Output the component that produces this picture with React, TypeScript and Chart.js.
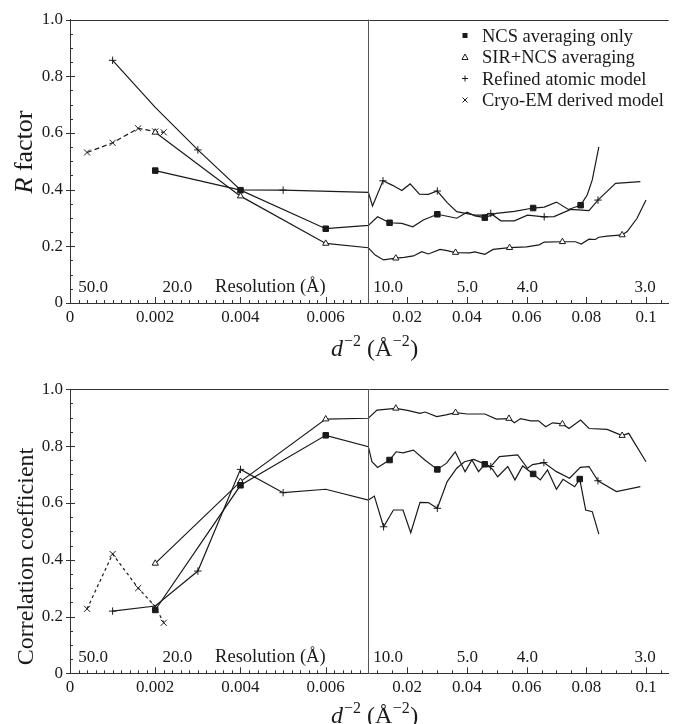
import React, { useEffect, useRef } from 'react';
import { Chart, registerables, LinearScale } from 'chart.js';

type Pt = [number, number, number]; // [d^-2, value, marker shown]

// ---------------- data ----------------
const xBreak = 0.007;
const xMax = 0.1076;
const xMajorTicks = [0, 0.002, 0.004, 0.006, 0.02, 0.04, 0.06, 0.08, 0.1];
const xTickLabels = ['0', '0.002', '0.004', '0.006', '0.02', '0.04', '0.06', '0.08', '0.1'];
const yMajorTicks = [0, 0.2, 0.4, 0.6, 0.8, 1.0];
const yTickLabels = ['0', '0.2', '0.4', '0.6', '0.8', '1.0'];
const seriesNames = ['NCS averaging only', 'SIR+NCS averaging', 'Refined atomic model', 'Cryo-EM derived model'];
const resLabels = ['50.0', '20.0', 'Resolution (Å)', '10.0', '5.0', '4.0', '3.0'];
const resLabelX = [0.00054, 0.00252, 0.0047, 0.0136, 0.0402, 0.0603, 0.0997];

// R factor panel
const rNcs: Pt[] = [
  [0.002, 0.467, 1], [0.004, 0.398, 1], [0.006, 0.262, 1], [0.007, 0.274, 0], [0.0101, 0.304, 0],
  [0.0141, 0.283, 1], [0.0182, 0.281, 0], [0.0219, 0.269, 0], [0.0254, 0.293, 0], [0.0301, 0.313, 1],
  [0.0334, 0.306, 0], [0.0366, 0.299, 0], [0.0401, 0.320, 0], [0.0427, 0.307, 0], [0.046, 0.301, 1],
  [0.0498, 0.316, 0], [0.0559, 0.323, 0], [0.0622, 0.335, 1], [0.0659, 0.338, 0], [0.0700, 0.356, 0],
  [0.0740, 0.330, 0], [0.0781, 0.345, 1], [0.0803, 0.381, 0], [0.0820, 0.434, 0], [0.0842, 0.551, 0],
];
const rSir: Pt[] = [
  [0.002, 0.602, 1], [0.004, 0.377, 1], [0.006, 0.210, 1], [0.007, 0.195, 0], [0.0093, 0.169, 0],
  [0.0121, 0.152, 0], [0.0162, 0.158, 1], [0.019, 0.161, 0], [0.0221, 0.166, 0], [0.0249, 0.181, 0],
  [0.0271, 0.173, 0], [0.031, 0.189, 0], [0.0334, 0.185, 0], [0.0362, 0.178, 1], [0.041, 0.177, 0],
  [0.0427, 0.180, 0], [0.046, 0.172, 0], [0.0488, 0.189, 0], [0.0543, 0.195, 1], [0.0600, 0.198, 0],
  [0.0642, 0.205, 0], [0.0659, 0.215, 0], [0.072, 0.216, 1], [0.0764, 0.216, 0], [0.0783, 0.208, 0],
  [0.0809, 0.225, 0], [0.0830, 0.224, 0], [0.0842, 0.232, 0], [0.087, 0.236, 0], [0.092, 0.240, 1],
  [0.0937, 0.252, 0], [0.097, 0.299, 0], [0.1, 0.363, 0],
];
const rRefined: Pt[] = [
  [0.001, 0.856, 1], [0.002, 0.690, 0], [0.003, 0.540, 1], [0.004, 0.399, 0], [0.005, 0.398, 1],
  [0.007, 0.390, 0], [0.0084, 0.342, 0], [0.0119, 0.431, 1], [0.0151, 0.415, 0], [0.0182, 0.397, 0],
  [0.021, 0.420, 0], [0.0241, 0.384, 0], [0.0271, 0.383, 0], [0.0301, 0.395, 1], [0.0334, 0.354, 0],
  [0.0366, 0.322, 0], [0.0427, 0.310, 0], [0.046, 0.310, 0], [0.048, 0.316, 1], [0.0514, 0.290, 0],
  [0.0559, 0.290, 0], [0.0603, 0.310, 0], [0.0659, 0.304, 1], [0.0692, 0.305, 0], [0.0748, 0.330, 0],
  [0.0809, 0.326, 0], [0.0839, 0.363, 1], [0.0898, 0.422, 0], [0.0981, 0.428, 0],
];
const rCryo: Pt[] = [
  [0.0004, 0.531, 1], [0.001, 0.565, 1], [0.0016, 0.616, 1], [0.002, 0.605, 1], [0.0022, 0.602, 1],
];

// Correlation coefficient panel
const ccNcs: Pt[] = [
  [0.002, 0.223, 1], [0.004, 0.662, 1], [0.006, 0.838, 1], [0.007, 0.798, 0], [0.0082, 0.745, 0],
  [0.0101, 0.725, 0], [0.0141, 0.751, 1], [0.0163, 0.780, 0], [0.0186, 0.776, 0], [0.0221, 0.786, 0],
  [0.0259, 0.751, 0], [0.0301, 0.718, 1], [0.0332, 0.740, 0], [0.0361, 0.780, 0], [0.0394, 0.710, 0],
  [0.0417, 0.751, 0], [0.0439, 0.710, 0], [0.046, 0.736, 1], [0.0485, 0.720, 0], [0.0503, 0.692, 0],
  [0.0537, 0.728, 0], [0.0561, 0.681, 0], [0.0587, 0.730, 0], [0.0622, 0.702, 1], [0.0646, 0.681, 0],
  [0.067, 0.716, 0], [0.070, 0.648, 0], [0.0722, 0.683, 0], [0.0761, 0.657, 0], [0.0778, 0.684, 1],
  [0.0798, 0.575, 0], [0.082, 0.569, 0], [0.0842, 0.490, 0],
];
const ccSir: Pt[] = [
  [0.002, 0.387, 1], [0.004, 0.675, 1], [0.006, 0.895, 1], [0.007, 0.898, 0], [0.0099, 0.927, 0],
  [0.0162, 0.933, 1], [0.0205, 0.925, 0], [0.0243, 0.915, 0], [0.026, 0.920, 0], [0.0299, 0.904, 0],
  [0.033, 0.910, 0], [0.0362, 0.918, 1], [0.040, 0.913, 0], [0.046, 0.913, 0], [0.0499, 0.895, 0],
  [0.0541, 0.897, 1], [0.0559, 0.882, 0], [0.058, 0.897, 0], [0.0614, 0.889, 0], [0.064, 0.889, 0],
  [0.0664, 0.868, 0], [0.0687, 0.882, 0], [0.072, 0.878, 1], [0.0742, 0.862, 0], [0.0781, 0.892, 0],
  [0.0809, 0.862, 0], [0.087, 0.859, 0], [0.089, 0.850, 0], [0.092, 0.837, 1], [0.0942, 0.845, 0],
  [0.1, 0.745, 0],
];
const ccRefined: Pt[] = [
  [0.001, 0.219, 1], [0.002, 0.237, 0], [0.003, 0.360, 1], [0.004, 0.718, 1], [0.005, 0.636, 1],
  [0.006, 0.648, 0], [0.007, 0.610, 0], [0.009, 0.624, 0], [0.0121, 0.516, 1], [0.0154, 0.575, 0],
  [0.0186, 0.575, 0], [0.0212, 0.495, 0], [0.0243, 0.602, 0], [0.0271, 0.601, 0], [0.0301, 0.581, 1],
  [0.0334, 0.675, 0], [0.0366, 0.722, 0], [0.0392, 0.745, 0], [0.0423, 0.753, 0], [0.048, 0.728, 1],
  [0.0509, 0.763, 0], [0.057, 0.769, 0], [0.0603, 0.722, 0], [0.062, 0.735, 0], [0.0658, 0.742, 1],
  [0.070, 0.710, 0], [0.0744, 0.687, 0], [0.078, 0.725, 0], [0.0809, 0.728, 0], [0.0839, 0.678, 1],
  [0.0901, 0.640, 0], [0.0981, 0.657, 0],
];
const ccCryo: Pt[] = [
  [0.0004, 0.227, 1], [0.001, 0.420, 1], [0.0016, 0.300, 1], [0.002, 0.235, 1], [0.0022, 0.178, 1],
];

// ---------------- styling ----------------
const INK = '#1a1a1a';
const AXIS = '#333333';
const SERIF = '"Liberation Serif", "Times New Roman", serif';
const BREAK_FRAC = 300 / 602;

const seriesStyles = [
  { pointStyle: 'rect', radius: 3.9, fill: INK },
  { pointStyle: 'triangle', radius: 3.6, fill: '#ffffff' },
  { pointStyle: 'cross', radius: 3.7, fill: INK },
  { pointStyle: 'crossRot', radius: 4.3, fill: INK },
];

// minor tick values
const xMinor: number[] = [];
for (let i = 1; i <= 34; i++) if (i % 10 !== 0) xMinor.push(i / 5000);
for (let k = 2; k <= 21; k++) if (k % 4 !== 0) xMinor.push(k * 0.005);
const yMinor: number[] = [];
for (let k = 1; k < 20; k++) if (k % 4 !== 0) yMinor.push(k * 0.05);

// --------- broken (piecewise linear) x scale ---------
class BrokenScale extends LinearScale {
  static id = 'broken';
  static defaults = LinearScale.defaults;
  buildTicks() {
    return xMajorTicks.map((v) => ({ value: v }));
  }
  getPixelForValue(value: any) {
    if (value === null || value === undefined || isNaN(value)) return NaN;
    const min = (this as any).min as number;
    const max = (this as any).max as number;
    let d: number;
    if (value <= xBreak) d = ((value - min) / (xBreak - min)) * BREAK_FRAC;
    else d = BREAK_FRAC + ((value - xBreak) / (max - xBreak)) * (1 - BREAK_FRAC);
    return (this as any).getPixelForDecimal(d);
  }
  getValueForPixel(pixel: number) {
    const d = (this as any).getDecimalForPixel(pixel);
    const min = (this as any).min as number;
    const max = (this as any).max as number;
    if (d <= BREAK_FRAC) return min + (d / BREAK_FRAC) * (xBreak - min);
    return xBreak + ((d - BREAK_FRAC) / (1 - BREAK_FRAC)) * (max - xBreak);
  }
}

Chart.register(...registerables, BrokenScale as any);

type PanelCfg = {
  key: string;
  top: number;
  height: number;
  padTop: number;
  xAxisHeight: number;
  series: Pt[][];
  cryoDash: number[];
  yTitle: { text: string; italic: boolean }[];
  yTitleSize: number;
  yTitleX: number;
  yTitleY: number;
  xTitleOffset: number;
  legend: boolean;
};

function makeOverlay(cfg: PanelCfg) {
  return {
    id: 'overlay_' + cfg.key,
    afterDraw(chart: any) {
      const { ctx, chartArea: a } = chart;
      const xs = chart.scales.x;
      const ys = chart.scales.y;
      ctx.save();
      const seg = (x1: number, y1: number, x2: number, y2: number) => {
        ctx.beginPath();
        ctx.moveTo(x1, y1);
        ctx.lineTo(x2, y2);
        ctx.stroke();
      };
      ctx.lineWidth = 1;
      ctx.strokeStyle = AXIS;
      // top frame line
      seg(a.left, Math.round(a.top) + 0.5, a.right, Math.round(a.top) + 0.5);
      // break line
      const bx = Math.round(xs.getPixelForValue(xBreak)) + 0.5;
      ctx.strokeStyle = '#555555';
      seg(bx, a.top, bx, a.bottom);
      ctx.strokeStyle = AXIS;
      // x ticks (inward)
      xMinor.forEach((v) => {
        const p = Math.round(xs.getPixelForValue(v)) + 0.5;
        seg(p, a.bottom, p, a.bottom - 3);
      });
      xMajorTicks.forEach((v) => {
        const p = Math.round(xs.getPixelForValue(v)) + 0.5;
        seg(p, a.bottom, p, a.bottom - 6);
      });
      // y ticks
      yMinor.forEach((v) => {
        const p = Math.round(ys.getPixelForValue(v)) + 0.5;
        seg(a.left, p, a.left + 3, p);
      });
      yMajorTicks.forEach((v) => {
        const p = Math.round(ys.getPixelForValue(v)) + 0.5;
        seg(a.left - 4, p, a.left + 5, p);
      });

      // resolution labels
      ctx.fillStyle = INK;
      ctx.textAlign = 'center';
      ctx.textBaseline = 'alphabetic';
      resLabels.forEach((t, i) => {
        ctx.font = (t.length > 5 ? '18.5px ' : '17px ') + SERIF;
        ctx.fillText(t, xs.getPixelForValue(resLabelX[i]), a.bottom - 11);
      });

      // x title: d^-2 (Å^-2)
      ctx.textAlign = 'left';
      const base = a.bottom + cfg.xTitleOffset;
      let tx = 331;
      const part = (txt: string, font: string, dy: number, gap = 0) => {
        ctx.font = font;
        ctx.fillText(txt, tx, base + dy);
        tx += ctx.measureText(txt).width + gap;
      };
      part('d', 'italic 24px ' + SERIF, 0, 1);
      part('\u22122', '16px ' + SERIF, -10, 0);
      part(' (Å', '24px ' + SERIF, 0, 0.5);
      part('\u22122', '16px ' + SERIF, -10, 0.5);
      part(')', '24px ' + SERIF, 0);

      // y title (rotated)
      ctx.save();
      ctx.translate(cfg.yTitleX, cfg.yTitleY);
      ctx.rotate(-Math.PI / 2);
      let total = 0;
      const fontFor = (p: { italic: boolean }) => (p.italic ? 'italic ' : '') + cfg.yTitleSize + 'px ' + SERIF;
      cfg.yTitle.forEach((p) => {
        ctx.font = fontFor(p);
        total += ctx.measureText(p.text).width;
      });
      let ux = -total / 2;
      cfg.yTitle.forEach((p) => {
        ctx.font = fontFor(p);
        ctx.fillText(p.text, ux, 0);
        ux += ctx.measureText(p.text).width;
      });
      ctx.restore();

      // legend
      if (cfg.legend) {
        const mx = 465;
        const tx0 = 482;
        const baselines = [41.5, 63, 84.5, 106];
        ctx.font = '18.5px ' + SERIF;
        ctx.lineWidth = 1;
        seriesNames.forEach((name, i) => {
          const by = baselines[i];
          const my = by - 6;
          ctx.fillStyle = INK;
          ctx.strokeStyle = INK;
          if (i === 0) {
            ctx.fillRect(mx - 2.5, my - 2.5, 5, 5);
          } else if (i === 1) {
            ctx.beginPath();
            ctx.moveTo(mx, my - 3);
            ctx.lineTo(mx + 3, my + 2.5);
            ctx.lineTo(mx - 3, my + 2.5);
            ctx.closePath();
            ctx.stroke();
          } else if (i === 2) {
            seg(mx - 3, my, mx + 3, my);
            seg(mx, my - 3, mx, my + 3);
          } else {
            seg(mx - 2.5, my - 2.5, mx + 2.5, my + 2.5);
            seg(mx - 2.5, my + 2.5, mx + 2.5, my - 2.5);
          }
          ctx.fillText(name, tx0, by);
        });
      }
      ctx.restore();
    },
  };
}

function Panel({ cfg }: { cfg: PanelCfg }) {
  const ref = useRef<HTMLCanvasElement>(null);
  useEffect(() => {
    const canvas = ref.current;
    if (!canvas) return;
    const datasets = cfg.series.map((s, i) => {
      const st = seriesStyles[i];
      return {
        label: seriesNames[i],
        data: s.map(([x, y, m]) => ({ x, y, m })),
        borderColor: INK,
        borderWidth: 1.2,
        borderDash: i === 3 ? cfg.cryoDash : [],
        pointStyle: st.pointStyle,
        pointRadius: (c: any) => (c.raw && c.raw.m ? st.radius : 0),
        pointBorderColor: INK,
        pointBackgroundColor: st.fill,
        pointBorderWidth: 1,
        tension: 0,
        fill: false,
      };
    });
    const tickFont = { family: SERIF, size: 17 };
    const chart = new Chart(canvas, {
      type: 'line',
      data: { datasets } as any,
      options: {
        responsive: false,
        animation: false,
        events: [],
        layout: { padding: { top: cfg.padTop, right: 2, left: 0, bottom: 0 } },
        plugins: { legend: { display: false }, tooltip: { enabled: false } },
        scales: {
          x: {
            type: 'broken' as any,
            min: 0,
            max: xMax,
            grid: { display: false, drawTicks: false },
            border: { display: true, color: AXIS, width: 1 },
            ticks: {
              autoSkip: false,
              maxRotation: 0,
              padding: 4,
              color: INK,
              font: tickFont,
              callback: (_v: any, i: number) => xTickLabels[i],
            },
            afterFit: (s: any) => {
              s.height = cfg.xAxisHeight;
            },
          },
          y: {
            type: 'linear',
            min: 0,
            max: 1,
            grid: { display: false, drawTicks: false },
            border: { display: true, color: AXIS, width: 1 },
            ticks: {
              stepSize: 0.2,
              padding: 7,
              color: INK,
              font: tickFont,
              callback: (_v: any, i: number) => yTickLabels[i],
            },
            afterFit: (s: any) => {
              s.width = 70;
            },
          },
        },
      } as any,
      plugins: [makeOverlay(cfg)],
    });
    return () => chart.destroy();
  }, []);
  return (
    <canvas
      ref={ref}
      width={674}
      height={cfg.height}
      style={{ position: 'absolute', left: 0, top: cfg.top, width: 674, height: cfg.height }}
    />
  );
}

const topCfg: PanelCfg = {
  key: 'r',
  top: 0,
  height: 370,
  padTop: 19.5,
  xAxisHeight: 67,
  series: [rNcs, rSir, rRefined, rCryo],
  cryoDash: [5, 3],
  yTitle: [
    { text: 'R', italic: true },
    { text: ' factor', italic: false },
  ],
  yTitleSize: 26,
  yTitleX: 32,
  yTitleY: 152,
  xTitleOffset: 53,
  legend: true,
};

const bottomCfg: PanelCfg = {
  key: 'cc',
  top: 370,
  height: 354,
  padTop: 19.3,
  xAxisHeight: 50.7,
  series: [ccNcs, ccSir, ccRefined, ccCryo],
  cryoDash: [3, 3],
  yTitle: [{ text: 'Correlation coefficient', italic: false }],
  yTitleSize: 24,
  yTitleX: 33,
  yTitleY: 186.5,
  xTitleOffset: 50,
  legend: false,
};

export default function App() {
  return (
    <div style={{ position: 'absolute', left: 0, top: 0, width: 674, height: 724, background: '#ffffff', overflow: 'hidden' }}>
      <Panel cfg={topCfg} />
      <Panel cfg={bottomCfg} />
    </div>
  );
}
